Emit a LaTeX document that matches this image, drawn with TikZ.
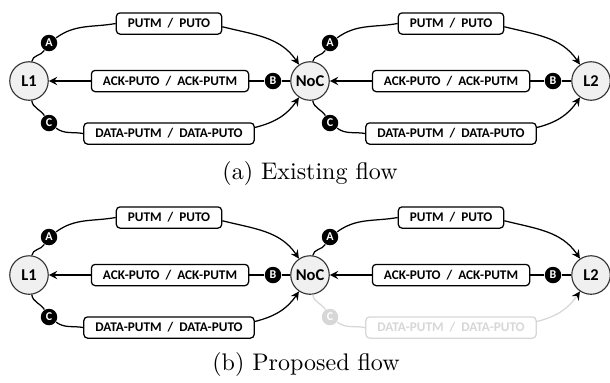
\documentclass[tikz,border=0pt]{standalone}
\usepackage{fontspec}
\newfontfamily\labelfont{Carlito}
\usetikzlibrary{positioning,arrows}
\definecolor{cachegray}{RGB}{240,240,240}
\definecolor{fadegray}{RGB}{215,215,215}

\begin{document}
\begin{tikzpicture}[x=0.4pt, y=-0.4pt,
    >=stealth,
    cache/.style={%
      circle, draw=black!80, fill=cachegray, line width=0.45pt,
      minimum size=15.4pt, inner sep=0pt,
      font=\labelfont\bfseries\fontsize{6.6}{7}\selectfont
    },
    msg/.style={%
      rectangle, rounded corners=1.5pt, draw=black, fill=white, line width=0.5pt,
      minimum height=8.5pt, inner xsep=4.6pt, inner ysep=0pt,
      font=\labelfont\bfseries\fontsize{5.3}{6}\selectfont
    },
    tag/.style={%
      circle, fill=black, text=white, minimum size=6.6pt, inner sep=0pt,
      font=\labelfont\bfseries\fontsize{4.8}{5}\selectfont
    },
    flow/.style={line width=0.5pt},
    faded/.style={draw=fadegray, text=fadegray},
    fadedtag/.style={fill=fadegray, text=white},
    caption/.style={font=\fontsize{9.6}{11}\selectfont}
]
    \useasboundingbox (0,0) rectangle (610,382);

    % (a) existing flow
    \node[cache] (l1)  at (29,81)   {L1};
    \node[cache] (noc) at (310,81)  {NoC};
    \node[cache] (l2)  at (591,81)  {L2};
    \node[msg] (put1)  at (169,23.5)  {PUTM~~/~~PUTO};
    \node[msg] (ack1)  at (170,81)    {ACK-PUTO~~/~~ACK-PUTM};
    \node[msg] (data1) at (169,133.5) {DATA-PUTM~~/~~DATA-PUTO};
    \node[msg] (put2)  at (451,23.5)  {PUTM~~/~~PUTO};
    \node[msg] (ack2)  at (451,81)    {ACK-PUTO~~/~~ACK-PUTM};
    \node[msg] (data2) at (451,133.5) {DATA-PUTM~~/~~DATA-PUTO};
    \node[tag] (A1) at (49,43)   {A};
    \node[tag] (B1) at (273,81)  {B};
    \node[tag] (C1) at (49,123)  {C};
    \node[tag] (A2) at (330,43)  {A};
    \node[tag] (B2) at (553,81)  {B};
    \node[tag] (C2) at (330,123) {C};
    \node[caption] (capa) at (310,173) {(a) Existing flow};

    \path[flow] (l1) edge[out=82, in=238] (A1)
          (A1) edge[out=36, in=190] (put1.west)
          ([yshift=-1.3pt]put1.east) edge[->, out=-14, in=124] (noc)
          (noc) edge (B1)
          (B1) edge (ack1)
          (ack1) edge[->] (l1)
          (l1) edge[out=-82, in=122] (C1)
          (C1) edge[out=-36, in=170] (data1.west)
          ([yshift=2.4pt]data1.east) edge[->, out=14, in=-124] (noc)
          (noc) edge[out=82, in=238] (A2)
          (A2) edge[out=36, in=190] (put2.west)
          ([yshift=-1.3pt]put2.east) edge[->, out=-14, in=124] (l2)
          (l2) edge (B2)
          (B2) edge (ack2)
          (ack2) edge[->] (noc)
          (noc) edge[out=-82, in=122] (C2)
          (C2) edge[out=-36, in=170] (data2.west)
          ([yshift=2.4pt]data2.east) edge[->, out=14, in=-124] (l2)
    ;

    % (b) proposed flow
    \node[cache] (l1p)  at (29,275)   {L1};
    \node[cache] (nocp) at (310,275)  {NoC};
    \node[cache] (l2p)  at (591,275)  {L2};
    \node[msg] (put1p)  at (169,217.5)  {PUTM~~/~~PUTO};
    \node[msg] (ack1p)  at (170,275)    {ACK-PUTO~~/~~ACK-PUTM};
    \node[msg] (data1p) at (169,327.5)  {DATA-PUTM~~/~~DATA-PUTO};
    \node[msg] (put2p)  at (451,217.5)  {PUTM~~/~~PUTO};
    \node[msg] (ack2p)  at (451,275)    {ACK-PUTO~~/~~ACK-PUTM};
    \node[msg, faded] (data2p) at (451,327.5) {DATA-PUTM~~/~~DATA-PUTO};
    \node[tag] (A1p) at (49,237)   {A};
    \node[tag] (B1p) at (273,275)  {B};
    \node[tag] (C1p) at (49,317)   {C};
    \node[tag] (A2p) at (330,237)  {A};
    \node[tag] (B2p) at (553,275)  {B};
    \node[tag, fadedtag] (C2p) at (330,317) {C};
    \node[caption] (capb) at (306,364) {(b) Proposed flow};

    \path[flow] (l1p) edge[out=82, in=238] (A1p)
          (A1p) edge[out=36, in=190] (put1p.west)
          ([yshift=-1.3pt]put1p.east) edge[->, out=-14, in=124] (nocp)
          (nocp) edge (B1p)
          (B1p) edge (ack1p)
          (ack1p) edge[->] (l1p)
          (l1p) edge[out=-82, in=122] (C1p)
          (C1p) edge[out=-36, in=170] (data1p.west)
          ([yshift=2.4pt]data1p.east) edge[->, out=14, in=-124] (nocp)
          (nocp) edge[out=82, in=238] (A2p)
          (A2p) edge[out=36, in=190] (put2p.west)
          ([yshift=-1.3pt]put2p.east) edge[->, out=-14, in=124] (l2p)
          (l2p) edge (B2p)
          (B2p) edge (ack2p)
          (ack2p) edge[->] (nocp)
    ;
    % faded data path
    \path[flow, draw=fadegray] (nocp) edge[out=-82, in=122] (C2p)
          (C2p) edge[out=-36, in=170] (data2p.west)
          ([yshift=2.4pt]data2p.east) edge[->, out=14, in=-124] (l2p)
    ;
  \end{tikzpicture}
\end{document}
